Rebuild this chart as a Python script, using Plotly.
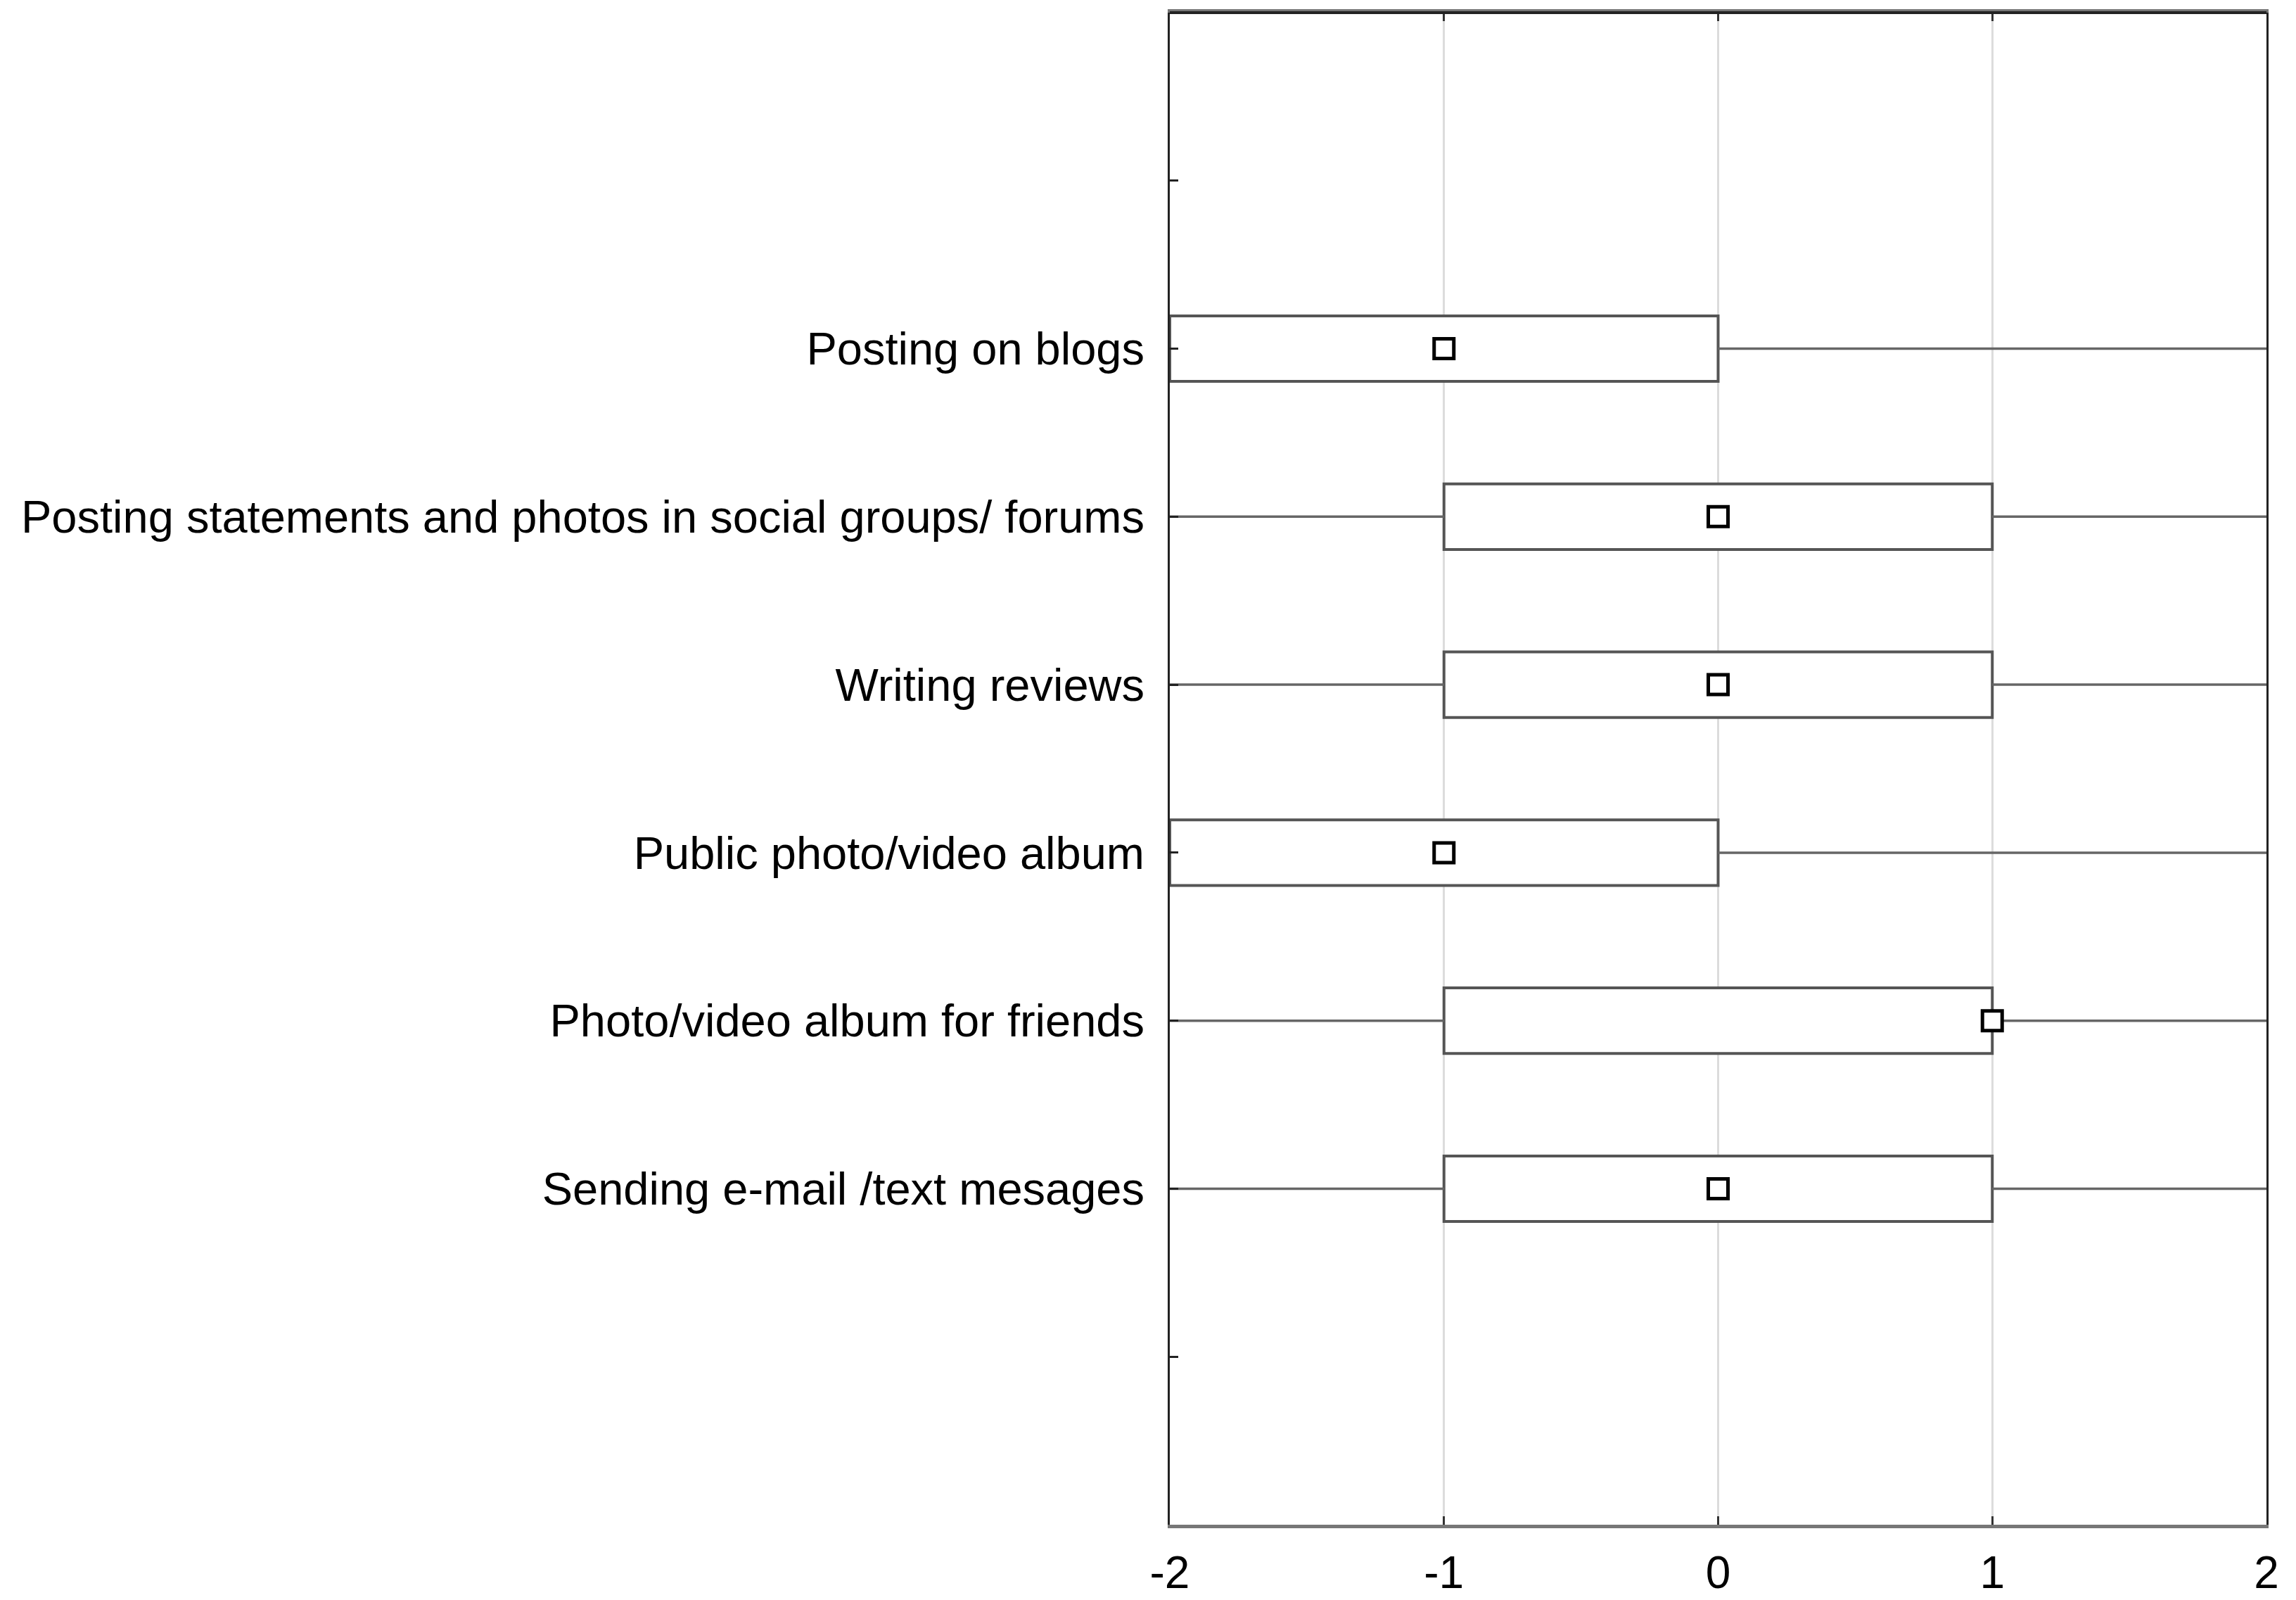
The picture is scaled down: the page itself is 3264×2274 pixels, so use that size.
import plotly.graph_objects as go

categories = [
    "Posting on blogs",
    "Posting statements and photos in social groups/ forums",
    "Writing reviews",
    "Public photo/video album",
    "Photo/video album for friends",
    "Sending e-mail /text mesages",
]
positions = [2, 3, 4, 5, 6, 7]
mins = [-2, -2, -2, -2, -2, -2]
q1s = [-2, -1, -1, -2, -1, -1]
medians = [-1, 0, 0, -1, 1, 0]
q3s = [0, 1, 1, 0, 1, 1]
maxs = [2, 2, 2, 2, 2, 2]

x_ticks = [-2, -1, 0, 1, 2]
x_ticktext = ["-2", "-1", "0", "1", "2"]
y_tickvals = [1, 2, 3, 4, 5, 6, 7, 8]
y_ticktext = [""] + categories + [""]

FONT = "Liberation Sans, Arial, sans-serif"

fig = go.Figure()

# whiskers
wx, wy = [], []
for p, mn, a, b, mx in zip(positions, mins, q1s, q3s, maxs):
    wx += [mn, a, None, b, mx, None]
    wy += [p, p, None, p, p, None]
fig.add_trace(go.Scatter(x=wx, y=wy, mode="lines",
                         line=dict(color="#666666", width=3.5),
                         hoverinfo="skip", showlegend=False))

# boxes (q1..q3)
fig.add_trace(go.Bar(
    y=positions, x=[b - a for a, b in zip(q1s, q3s)], base=q1s,
    orientation="h", width=0.39,
    marker=dict(color="white", line=dict(color="#555555", width=4)),
    showlegend=False,
))

# medians
fig.add_trace(go.Scatter(
    x=medians, y=positions, mode="markers",
    marker=dict(symbol="square", size=28, color="white",
                line=dict(color="black", width=5)),
    showlegend=False,
))

fig.update_layout(
    width=3264, height=2274,
    margin=dict(l=1655, r=50, t=10, b=115),
    paper_bgcolor="white", plot_bgcolor="white",
    font=dict(family=FONT, size=65, color="black"),
    barmode="overlay",
    shapes=[dict(type="line", xref="paper", yref="paper", x0=0, x1=1, y0=1, y1=1,
                 line=dict(color="#222222", width=4))],
)
fig.update_xaxes(
    range=[-2, 2], tickvals=x_ticks, ticktext=x_ticktext, automargin=False,
    showgrid=True, gridcolor="#dcdcdc", gridwidth=3,
    zeroline=False, showline=True, linecolor="#777777", linewidth=5,
    mirror="ticks", ticks="inside", ticklen=12, tickwidth=3, tickcolor="#333333",
    ticklabelstandoff=8,
    tickfont=dict(size=64, family=FONT, color="black"),
)
fig.update_yaxes(
    range=[9, 0], tickvals=y_tickvals, ticktext=y_ticktext, automargin=False,
    showgrid=False, zeroline=False, showline=True, linecolor="#222222", linewidth=3,
    mirror=True, ticks="inside", ticklen=12, tickwidth=3, tickcolor="#222222",
    ticklabelstandoff=20,
    tickfont=dict(size=65, family=FONT, color="black"),
)

fig.write_html("out.html")
